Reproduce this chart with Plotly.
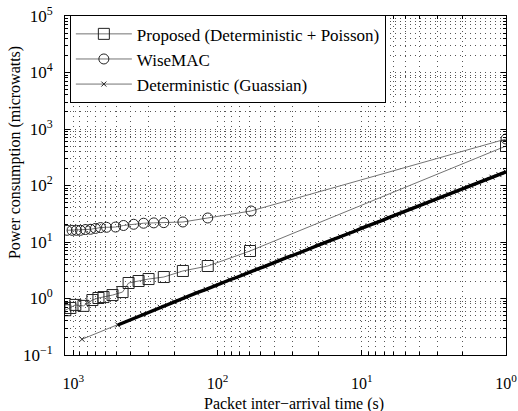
import plotly.graph_objects as go

# ---------------- data ----------------
prop_x = [1137, 1049, 969, 851, 738, 670, 618, 535, 456, 414, 353, 301, 236, 174, 117, 59.6, 1.0]
prop_y = [0.62, 0.68, 0.77, 0.74, 0.94, 1.02, 1.06, 1.15, 1.30, 1.88, 2.04, 2.21, 2.40, 3.07, 3.76, 6.93, 500]

wise_x = [1106, 1021, 953, 894, 825, 761, 703, 648, 589, 510, 449, 382, 326, 277, 236, 174, 117, 58.6, 1.0]
wise_y = [16.1, 16.1, 16.1, 16.1, 16.6, 16.8, 17.4, 18.0, 18.2, 18.4, 19.6, 20.6, 21.5, 21.8, 22.0, 22.6, 26.6, 35.4, 665]

det_x = [871, 492, 330, 250, 200, 165, 140, 120, 105, 92, 82, 74, 67, 60, 53, 47, 42, 37, 33, 29,
         26, 23, 20, 18, 16, 14, 12.5, 11, 10, 9, 8, 7.2, 6.5, 5.8, 5.2, 4.6, 4.1, 3.6, 3.2, 2.8,
         2.5, 2.2, 1.95, 1.75, 1.55, 1.4, 1.25, 1.12, 1.0]
det_y = [0.19, 0.34, 0.52, 0.70, 0.88, 1.05, 1.26, 1.45, 1.68, 1.90, 2.15, 2.35, 2.62, 2.90, 3.32, 3.70, 4.20, 4.70, 5.35, 6.0,
         6.8, 7.6, 8.8, 9.7, 11.0, 12.4, 14.1, 15.8, 17.6, 19.3, 22.0, 24.2, 27.0, 30.2, 33.5, 38.3, 42.5, 48.8, 54.5, 62.8,
         70, 79.5, 90, 99.5, 113, 125, 140, 156, 174]

names = ["Proposed (Deterministic + Poisson)", "WiseMAC", "Deterministic (Guassian)"]

x_tickvals = [1, 10, 100, 1000]
x_ticktext = ["10<sup>0</sup>", "10<sup>1</sup>", "10<sup>2</sup>", "10<sup>3</sup>"]
y_tickvals = [0.1, 1, 10, 100, 1000, 10000, 100000]
y_ticktext = ["10<sup>\u22121</sup>", "10<sup>0</sup>", "10<sup>1</sup>", "10<sup>2</sup>",
              "10<sup>3</sup>", "10<sup>4</sup>", "10<sup>5</sup>"]

x_title = "Packet inter\u2212arrival time (s)"
y_title = "Power consumption (microwatts)"

# ---------------- figure ----------------
FONT = "Liberation Serif"
LINE = "#737373"
MK = "#222222"

fig = go.Figure()

fig.add_trace(go.Scatter(
    x=prop_x, y=prop_y, name=names[0], mode="lines+markers",
    line=dict(color=LINE, width=1),
    marker=dict(symbol="square-open", size=11, color=MK, line=dict(width=1, color=MK)),
))
fig.add_trace(go.Scatter(
    x=wise_x, y=wise_y, name=names[1], mode="lines+markers",
    line=dict(color=LINE, width=1),
    marker=dict(symbol="circle-open", size=10, color=MK, line=dict(width=1, color=MK)),
))
fig.add_trace(go.Scatter(
    x=det_x, y=det_y, name=names[2], mode="lines+markers",
    line=dict(color=LINE, width=1),
    marker=dict(symbol="x-thin-open", size=5, color=MK, line=dict(width=1, color="#000")),
))
# dense part of the deterministic series drawn as a heavy band
fig.add_trace(go.Scatter(
    x=det_x[1:], y=det_y[1:], mode="lines", showlegend=False, hoverinfo="skip",
    line=dict(color="#000", width=3.4),
))

minor_vals = [m * 10 ** e for e in range(-2, 6) for m in range(2, 10)]

grid = dict(showgrid=True, gridcolor="#555", gridwidth=1, griddash="1px,4px")

fig.update_xaxes(
    type="log", range=[3.058, 0.0], autorange=False, automargin=False,
    tickmode="array", tickvals=x_tickvals, ticktext=x_ticktext,
    ticks="inside", ticklen=5, tickcolor="#000", mirror="ticks",
    showline=True, linecolor="#000", linewidth=1,
    zeroline=False, ticklabelstandoff=14,
    tickfont=dict(family=FONT, size=16, color="#000"),
    minor=dict(tickmode="array", tickvals=minor_vals, ticks="inside", ticklen=3,
               tickcolor="#000", **grid),
    **grid,
)
fig.update_yaxes(
    type="log", range=[-1, 5], autorange=False, automargin=False,
    tickmode="array", tickvals=y_tickvals, ticktext=y_ticktext,
    ticks="inside", ticklen=5, tickcolor="#000", mirror="ticks",
    showline=True, linecolor="#000", linewidth=1,
    zeroline=False, ticklabelstandoff=8,
    tickfont=dict(family=FONT, size=17, color="#000"),
    minor=dict(tickmode="array", tickvals=minor_vals, ticks="inside", ticklen=3,
               tickcolor="#000", **grid),
    **grid,
)

fig.add_annotation(
    text=y_title, xref="paper", yref="paper", x=-0.113, y=0.596,
    xanchor="center", yanchor="middle", textangle=-90, showarrow=False,
    font=dict(family=FONT, size=16, color="#000"),
)
fig.add_annotation(
    text=x_title, xref="paper", yref="paper", x=0.52, y=-0.145,
    xanchor="center", yanchor="middle", showarrow=False,
    font=dict(family=FONT, size=16, color="#000"),
)

fig.update_layout(
    width=518, height=411,
    margin=dict(l=65, r=12, t=16, b=56),
    plot_bgcolor="white", paper_bgcolor="white",
    font=dict(family=FONT, size=16, color="#000"),
    showlegend=True,
    legend=dict(
        x=0.011, y=1.002, xanchor="left", yanchor="top",
        bgcolor="white", bordercolor="#000", borderwidth=1,
        font=dict(family=FONT, size=17, color="#000"),
        itemwidth=56, tracegroupgap=0,
    ),
)

fig.write_html("out.html")
